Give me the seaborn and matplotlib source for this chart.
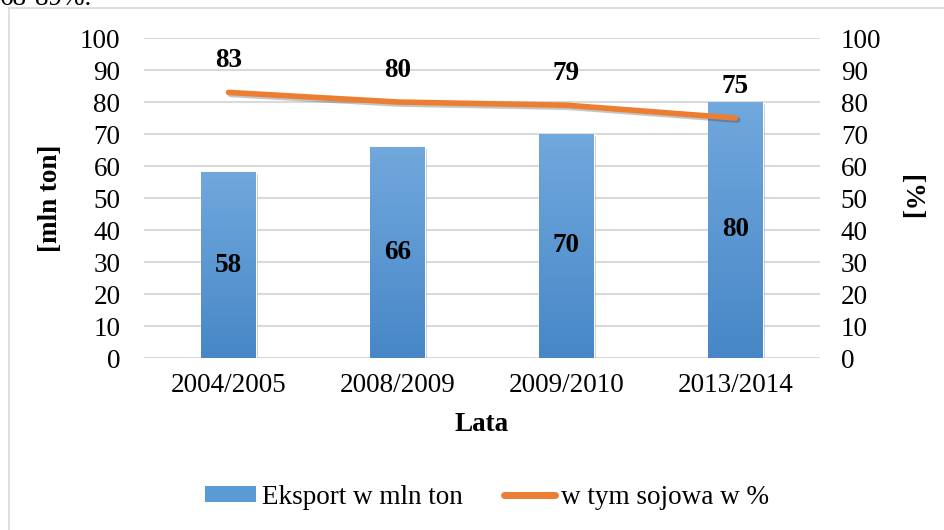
import matplotlib
matplotlib.use("Agg")
import matplotlib.pyplot as plt
import matplotlib.patheffects as pe
from matplotlib.colors import LinearSegmentedColormap
from matplotlib.lines import Line2D
from matplotlib.patches import Patch
import numpy as np
import pandas as pd
import seaborn as sns

years = ["2004/2005", "2008/2009", "2009/2010", "2013/2014"]
export_mln = [58, 66, 70, 80]
soy_share = [83, 80, 79, 75]

df = pd.DataFrame({"lata": years, "eksport": export_mln, "sojowa": soy_share})

sns.set_theme(style="white")
plt.rcParams["font.family"] = ["Liberation Serif", "DejaVu Serif"]
plt.rcParams["text.color"] = "black"
plt.rcParams["axes.labelcolor"] = "black"
FS = 19.5

fig = plt.figure(figsize=(9.45, 5.3), dpi=100)
ax = fig.add_axes([144 / 945, 1 - 358 / 530, 676 / 945, 320 / 530])

sns.barplot(data=df, x="lata", y="eksport", color="#5B9BD5", width=0.32,
            saturation=1, ax=ax, zorder=2)

# gradient fill on each bar
cmap = LinearSegmentedColormap.from_list("bl", ["#4787C7", "#71A8DD"])
grad = np.linspace(0, 1, 256).reshape(-1, 1)
for bar in ax.patches:
    x0, y0 = bar.get_x(), bar.get_y()
    w, h = bar.get_width(), bar.get_height()
    im = ax.imshow(grad, extent=[x0, x0 + w, y0, y0 + h], origin="lower",
                   cmap=cmap, aspect="auto", zorder=3)
    im.set_clip_path(bar)
    bar.set_path_effects([pe.SimplePatchShadow(offset=(1.5, -1.5), alpha=0.25),
                          pe.Normal()])

ax.bar_label(ax.containers[0], label_type="center", fontsize=FS,
             fontweight="bold", color="black", zorder=5)

ax.set_xlim(-0.5, len(years) - 0.5)
ax.set_ylim(0, 100)
ax.set_yticks(range(0, 101, 10))
ax.yaxis.grid(True, color="#D9D9D9", linewidth=1.5, zorder=0)
ax.set_axisbelow(True)
sns.despine(ax=ax, left=True, bottom=True)
ax.tick_params(axis="both", length=0, labelsize=FS, colors="black")
ax.tick_params(axis="y", pad=17)
ax.tick_params(axis="x", pad=11)
ax.set_xlabel("Lata", fontsize=FS, fontweight="bold", labelpad=10)
ax.set_ylabel("[mln ton]", fontsize=FS, fontweight="bold", labelpad=12)

ax2 = ax.twinx()
sns.lineplot(x=np.arange(len(years)), y=soy_share, ax=ax2, color="#ED7D31",
             linewidth=4, solid_capstyle="round",
             path_effects=[pe.SimpleLineShadow(offset=(1.5, -1.5), alpha=0.25),
                           pe.Normal()])
ax2.set_ylim(0, 100)
ax2.set_yticks(range(0, 101, 10))
for side in ["left", "right", "top", "bottom"]:
    ax2.spines[side].set_visible(False)
ax2.tick_params(axis="y", length=0, labelsize=FS, colors="black", pad=15)
ax2.set_ylabel("[%]", fontsize=FS, fontweight="bold", rotation=270,
               labelpad=30)
for i, v in enumerate(soy_share):
    ax2.annotate(str(v), (i, v), xytext=(0, 23), textcoords="offset points",
                 ha="center", va="center", fontsize=FS, fontweight="bold",
                 color="black")

handles = [Patch(facecolor="#5B9BD5", edgecolor="none"),
           Line2D([0], [0], color="#ED7D31", linewidth=5, solid_capstyle="round")]
fig.legend(handles, ["Eksport w mln ton", "w tym sojowa w %"],
           loc="center", bbox_to_anchor=(487 / 945, 1 - 497 / 530), ncol=2,
           frameon=False, fontsize=FS, handlelength=1.9, handleheight=0.55,
           handletextpad=0.22, columnspacing=1.5)

# outer chart frame (left and top edges visible)
fig.add_artist(Line2D([9 / 945, 9 / 945], [0, 1 - 8 / 530], color="#D9D9D9",
                      linewidth=1.2, transform=fig.transFigure))
fig.add_artist(Line2D([9 / 945, 1], [1 - 8 / 530, 1 - 8 / 530], color="#D9D9D9",
                      linewidth=1.2, transform=fig.transFigure))
fig.text(0.0, 1 - 5 / 530, "68-89%.", fontsize=FS, ha="left", va="baseline")

fig.savefig("out.png", dpi=100)
